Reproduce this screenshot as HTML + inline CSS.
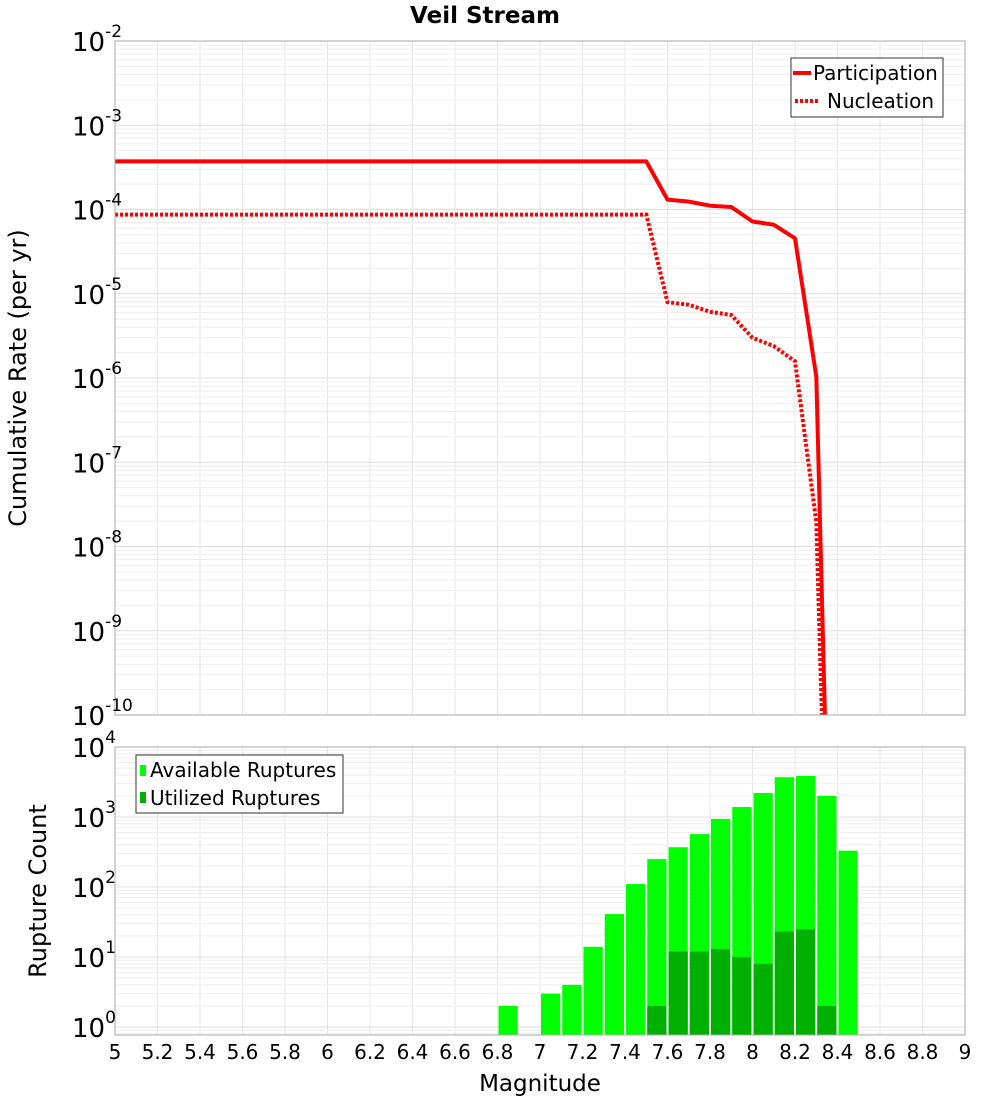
<!DOCTYPE html>
<html><head><meta charset="utf-8"><style>
body{margin:0;background:#fff;}
svg{display:block;font-family:"DejaVu Sans","Liberation Sans",sans-serif;}
</style></head><body>
<svg id="chart" width="1000" height="1100" viewBox="0 0 1000 1100" xmlns="http://www.w3.org/2000/svg">
<text x="485" y="23" text-anchor="middle" font-size="23" font-weight="bold">Veil Stream</text>
<g id="topGrid"></g>
<g id="botGrid"></g>
<g id="bars"></g>
<g id="lines"></g>
<rect x="115" y="41" width="850" height="674" fill="none" stroke="#aaa"/>
<rect x="115" y="747" width="850" height="288" fill="none" stroke="#aaa"/>
<g id="ticks"></g>
<text transform="translate(26,378) rotate(-90)" text-anchor="middle" font-size="24">Cumulative Rate (per yr)</text>
<text transform="translate(46,891) rotate(-90)" text-anchor="middle" font-size="24">Rupture Count</text>
<text x="540" y="1091" text-anchor="middle" font-size="23">Magnitude</text>
<g>
<rect x="791" y="58" width="152" height="59" fill="#fff" stroke="#333"/>
<line x1="793" y1="73" x2="811" y2="73" stroke="#f00" stroke-width="4"/>
<text x="813" y="80" font-size="20">Participation</text>
<line x1="795" y1="101" x2="820" y2="101" stroke="#f00" stroke-width="4" stroke-dasharray="3,2"/>
<text x="827" y="108" font-size="20">Nucleation</text>
</g>
<g>
<rect x="136" y="755" width="207" height="58" fill="#fff" stroke="#333"/>
<rect x="140" y="765" width="6" height="11" fill="#00ff00"/>
<text x="150" y="777" font-size="20">Available Ruptures</text>
<rect x="140" y="792" width="6" height="11" fill="#00b000"/>
<text x="150" y="805" font-size="20">Utilized Ruptures</text>
</g>
</svg>
<script>
const magsLine=[5.0,7.5,7.6,7.7,7.8,7.9,8.0,8.1,8.2,8.3,8.35];
const participation=[3.72e-4,3.72e-4,1.31e-4,1.24e-4,1.11e-4,1.07e-4,7.2e-5,6.6e-5,4.55e-5,1.04e-6,1.2e-11];
const nucleation=[8.7e-5,8.7e-5,7.96e-6,7.4e-6,6.1e-6,5.6e-6,3.0e-6,2.4e-6,1.58e-6,1.96e-8,8e-13];
const binMags=[6.8,7.0,7.1,7.2,7.3,7.4,7.5,7.6,7.7,7.8,7.9,8.0,8.1,8.2,8.3,8.4];
const available=[2,3,4,14,41,110,250,370,570,940,1390,2200,3700,3870,2000,330];
const utilized=[0,0,0,0,0,0,2,12,12,13,10,8,23,25,2,0];
const xTicks=["5","5.2","5.4","5.6","5.8","6","6.2","6.4","6.6","6.8","7","7.2","7.4","7.6","7.8","8","8.2","8.4","8.6","8.8","9"];
const topExps=[-2,-3,-4,-5,-6,-7,-8,-9,-10];
const botExps=[4,3,2,1,0];

const NS="http://www.w3.org/2000/svg";
function mk(tag,attrs,parent){const e=document.createElementNS(NS,tag);for(const k in attrs)e.setAttribute(k,attrs[k]);parent.appendChild(e);return e;}
const X=m=>115+(m-5)*212.5;
const YT=v=>41+(-2-Math.log10(v))*84.25;
const YB=v=>747+(4-Math.log10(v))*70;
const tg=document.getElementById('topGrid'),bg=document.getElementById('botGrid');
xTicks.forEach(t=>{const x=X(parseFloat(t));
 let l=mk('line',{x1:x,x2:x,y1:41,y2:715,stroke:'#e6e6e6'},tg);
 
 
 l=mk('line',{x1:x,x2:x,y1:747,y2:1035,stroke:'#e6e6e6'},bg);
 
 
});
for(let e=-10;e<-2;e++){for(let k=1;k<10;k++){const y=YT(k*Math.pow(10,e));
 const l=mk('line',{x1:115,x2:965,y1:y,y2:y,stroke:k==1?'#e0e0e0':'#eeeeee'},tg);
 
 }}
for(let e=-1;e<4;e++){for(let k=1;k<10;k++){const y=YB(k*Math.pow(10,e));if(y>1035||y<747)continue;
 const l=mk('line',{x1:115,x2:965,y1:y,y2:y,stroke:k==1?'#e0e0e0':'#eeeeee'},bg);
 
 }}
const bars=document.getElementById('bars');
binMags.forEach((m,i)=>{const x0=X(m)+1,w=212.5*0.1-2;
 let y=YB(available[i]);
 let r=mk('rect',{x:x0,y:y,width:w,height:1035-y,fill:'#00ff00'},bars);
 
 
 if(utilized[i]>0){y=YB(utilized[i]);
 r=mk('rect',{x:x0,y:y,width:w,height:1035-y,fill:'#00b000'},bars);
 
 }
});
const lg=document.getElementById('lines');
const clip=mk('clipPath',{id:'clipTop'},lg);
mk('rect',{x:115,y:41,width:850,height:674},clip);
function pts(arr){return magsLine.map((m,i)=>X(m).toFixed(1)+','+YT(arr[i]).toFixed(1)).join(' ');}
let pl=mk('polyline',{points:pts(nucleation),fill:'none',stroke:'#f00','stroke-width':4,'stroke-dasharray':'3,2','clip-path':'url(#clipTop)'},lg);


pl=mk('polyline',{points:pts(participation),fill:'none',stroke:'#f00','stroke-width':4,'stroke-linejoin':'round','clip-path':'url(#clipTop)'},lg);


const tk=document.getElementById('ticks');
xTicks.forEach(t=>{const tx=mk('text',{x:X(parseFloat(t)),y:1059,'text-anchor':'middle','font-size':20},tk);tx.textContent=t;
 
 });
function expLabel(y,e,name){const tx=mk('text',{x:72,y:y+10,'font-size':26},tk);
 tx.textContent='10';
 const s=mk('tspan',{dy:-14,'font-size':17},tx);s.textContent=String(e);
 
 }
topExps.forEach(e=>expLabel(YT(Math.pow(10,e)),e,'top-y-tick-label'));
botExps.forEach(e=>expLabel(YB(Math.pow(10,e)),e,'bottom-y-tick-label'));
</script>
</body></html>
